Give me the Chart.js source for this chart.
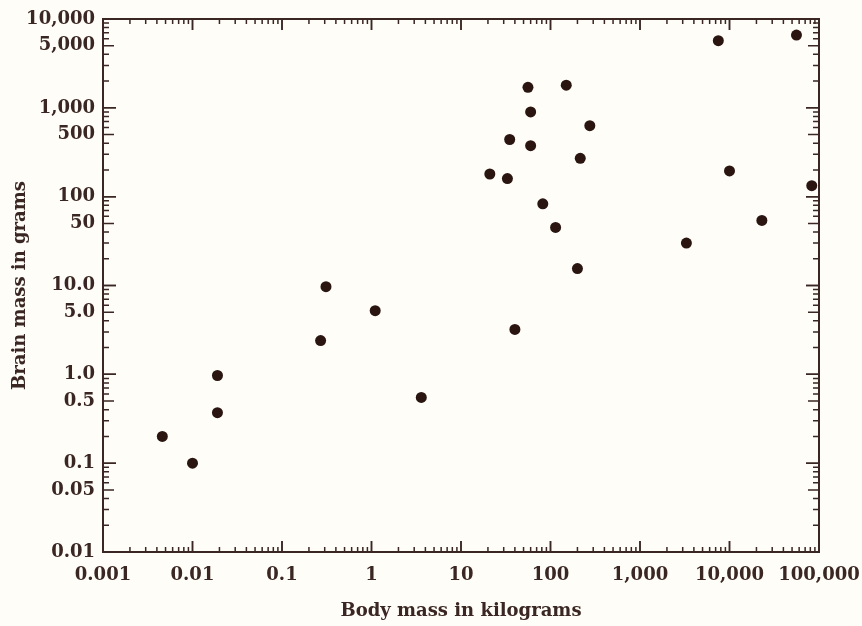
<!DOCTYPE html>
<html>
<head>
<meta charset="utf-8">
<script src="https://cdn.jsdelivr.net/npm/chart.js@4/dist/chart.umd.min.js"></script>
<style>
html, body { margin: 0; padding: 0; background: #fffdf7; }
canvas { display: block; }
</style>
</head>
<body>
<canvas id="brainChart" width="862" height="626"></canvas>
<script>
// body mass (kg) and brain mass (g)
var bodyMass = [0.0046, 0.010, 0.019, 0.019, 0.27, 0.31, 1.1, 3.6,
  21, 33, 35, 40, 56, 60, 60, 82, 114, 150, 200, 215, 275,
  3300, 7500, 10000, 23000, 56000, 83000];
var brainMass = [0.20, 0.10, 0.97, 0.37, 2.4, 9.7, 5.2, 0.55,
  180, 160, 440, 3.2, 1700, 900, 375, 83, 45, 1800, 15.5, 270, 630,
  30, 5700, 195, 54, 6600, 133];

var xTicks = [0.001, 0.01, 0.1, 1, 10, 100, 1000, 10000, 100000];
var xLabels = ["0.001", "0.01", "0.1", "1", "10", "100", "1,000", "10,000", "100,000"];
var yTicks = [0.01, 0.05, 0.1, 0.5, 1, 5, 10, 50, 100, 500, 1000, 5000, 10000];
var yLabels = ["0.01", "0.05", "0.1", "0.5", "1.0", "5.0", "10.0", "50", "100", "500", "1,000", "5,000", "10,000"];

var ink = "#3a2622";
var dotColor = "#2a1511";
var fontFamily = "'DejaVu Serif', 'Liberation Serif', serif";

// frame + inward log ticks on all four sides
var frameTicks = {
  id: "frameTicks",
  beforeDatasetsDraw: function (chart) {
    var ctx = chart.ctx;
    var a = chart.chartArea;
    var xs = chart.scales.x;
    var ys = chart.scales.y;
    ctx.save();
    ctx.strokeStyle = ink;
    ctx.lineWidth = 1.5;
    for (var k = -3; k <= 4; k++) {
      for (var m = 1; m <= 10; m++) {
        var v = m * Math.pow(10, k);
        if (v > 100000) continue;
        var px = xs.getPixelForValue(v);
        var len = (m == 1 || m == 10) ? 11 : 5;
        ctx.beginPath();
        ctx.moveTo(px, a.bottom); ctx.lineTo(px, a.bottom - len);
        ctx.moveTo(px, a.top); ctx.lineTo(px, a.top + len);
        ctx.stroke();
      }
    }
    for (var k = -2; k <= 3; k++) {
      for (var m = 1; m <= 10; m++) {
        var v = m * Math.pow(10, k);
        var py = ys.getPixelForValue(v);
        var len = (m == 1 || m == 10) ? 13 : (m == 5 ? 11 : 6);
        ctx.beginPath();
        ctx.moveTo(a.left, py); ctx.lineTo(a.left + len, py);
        ctx.moveTo(a.right, py); ctx.lineTo(a.right - len, py);
        ctx.stroke();
      }
    }
    ctx.lineWidth = 2;
    ctx.strokeRect(a.left, a.top, a.right - a.left, a.bottom - a.top);
    ctx.restore();
  }
};

var ctx = document.getElementById("brainChart");
var brainChart = new Chart(ctx, {
  type: "scatter",
  data: {
    datasets: [{
      label: "Animals",
      data: bodyMass.map(function (b, i) { return { x: b, y: brainMass[i] }; }),
      backgroundColor: dotColor,
      borderColor: dotColor,
      pointRadius: 5.5,
      pointBorderWidth: 0
    }]
  },
  options: {
    responsive: false,
    animation: false,
    layout: { padding: { left: 0, top: 19, right: 43, bottom: 0 } },
    plugins: {
      legend: { display: false },
      tooltip: { enabled: false }
    },
    scales: {
      x: {
        type: "logarithmic",
        min: 0.001,
        max: 100000,
        afterBuildTicks: function (scale) {
          scale.ticks = xTicks.map(function (v) { return { value: v }; });
        },
        afterFit: function (scale) {
          scale.height = 74;
          scale.paddingLeft = 0;
          scale.paddingRight = 0;
        },
        grid: { display: false, drawTicks: false },
        border: { display: false },
        ticks: {
          autoSkip: false,
          maxRotation: 0,
          padding: 13,
          color: ink,
          font: { family: fontFamily, size: 18, weight: "bold" },
          callback: function (value, index) { return xLabels[index]; }
        },
        title: {
          display: true,
          text: "Body mass in kilograms",
          color: ink,
          padding: { top: 0, bottom: 4 },
          font: { family: fontFamily, size: 18, weight: "bold" }
        }
      },
      y: {
        type: "logarithmic",
        min: 0.01,
        max: 10000,
        afterBuildTicks: function (scale) {
          scale.ticks = yTicks.map(function (v) { return { value: v }; });
        },
        afterFit: function (scale) {
          scale.width = 103;
          scale.paddingTop = 0;
          scale.paddingBottom = 0;
        },
        grid: { display: false, drawTicks: false },
        border: { display: false },
        ticks: {
          autoSkip: false,
          padding: 8,
          color: ink,
          font: { family: fontFamily, size: 18, weight: "bold" },
          callback: function (value, index) { return yLabels[index]; }
        },
        title: {
          display: true,
          text: "Brain mass in grams",
          color: ink,
          padding: { top: 10, bottom: 0 },
          font: { family: fontFamily, size: 18, weight: "bold" }
        }
      }
    }
  },
  plugins: [frameTicks]
});
</script>
</body>
</html>
